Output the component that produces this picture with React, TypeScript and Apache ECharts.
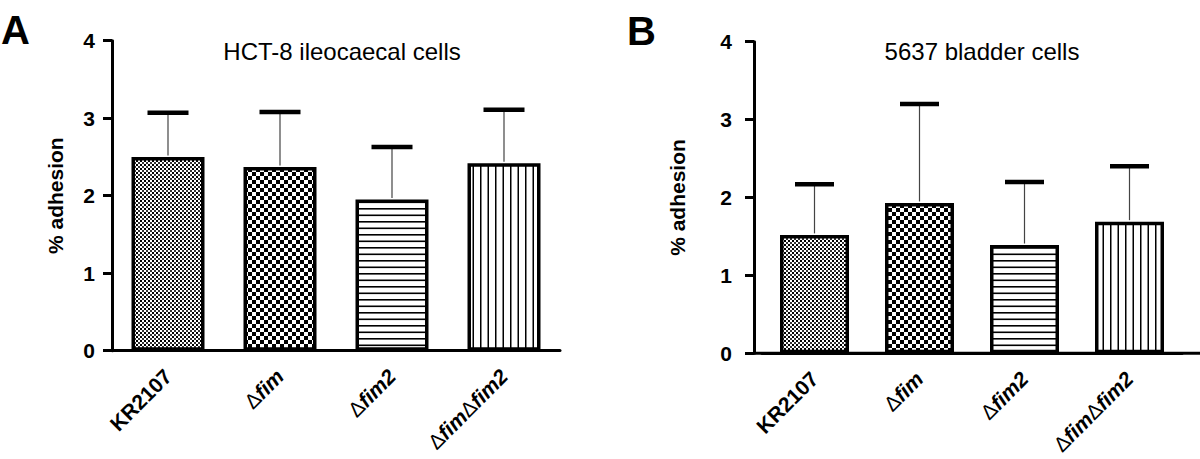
import React, { useEffect, useRef } from "react";
import * as echarts from "echarts";

const categories = ["KR2107", "Δfim", "Δfim2", "ΔfimΔfim2"];
const labelRich = [
  "{b|KR2107}",
  "{d|Δ}{i|fim}",
  "{d|Δ}{i|fim2}",
  "{d|Δ}{i|fim}{d|Δ}{i|fim2}",
];
const meanA = [2.50, 2.37, 1.95, 2.42];
const upperA = [3.07, 3.08, 2.63, 3.11];
const meanB = [1.52, 1.93, 1.39, 1.69];
const upperB = [2.17, 3.20, 2.20, 2.40];
const yTicks = [0, 1, 2, 3, 4];
const titleA = "HCT-8 ileocaecal cells";
const titleB = "5637 bladder cells";
const yName = "% adhesion";

const FONT = "Liberation Sans, Arial, Helvetica, sans-serif";

function makePattern(w: number, h: number, draw: (ctx: CanvasRenderingContext2D) => void) {
  const c = document.createElement("canvas");
  c.width = w;
  c.height = h;
  const ctx = c.getContext("2d")!;
  ctx.fillStyle = "#fff";
  ctx.fillRect(0, 0, w, h);
  ctx.fillStyle = "#000";
  draw(ctx);
  return { image: c, repeat: "repeat", imageWidth: w, imageHeight: h } as any;
}

export default function App() {
  const ref = useRef<HTMLDivElement>(null);
  useEffect(() => {
    if (!ref.current) return;
    const chart = echarts.init(ref.current, undefined, { renderer: "svg" });

    const fine = makePattern(4, 4, (c) => {
      c.fillRect(0, 0, 2, 2);
      c.fillStyle = "#333";
      c.fillRect(2, 2, 2, 2);
    });
    const checker = makePattern(8, 8, (c) => {
      c.fillRect(0, 0, 4, 4);
      c.fillRect(4, 4, 4, 4);
    });
    const hlines = makePattern(4, 13, (c) => {
      c.fillRect(0, 0, 4, 1.6);
      c.fillRect(0, 6.5, 4, 1.6);
    });
    const vlines = makePattern(15, 4, (c) => {
      c.fillRect(0, 0, 1.5, 4);
      c.fillRect(7.5, 0, 1.5, 4);
    });
    const patterns = [fine, checker, hlines, vlines];

    const gA = { left: 112, top: 40.7, width: 448, height: 310 };
    const gB = { left: 762, top: 41.7, width: 420, height: 311.6 };

    const xAxisBase = (gridIndex: number, margin: number) => ({
      type: "category",
      gridIndex,
      data: categories,
      axisLine: { lineStyle: { color: "#000", width: 3 } },
      axisTick: { alignWithLabel: true, length: 9, lineStyle: { color: "#000", width: 3 } },
      axisLabel: {
        rotate: 45,
        margin,
        interval: 0,
        color: "#000",
        formatter: (_v: string, i: number) => labelRich[i],
        rich: {
          b: { fontFamily: FONT, fontWeight: "bold", fontSize: 21, color: "#000" },
          d: { fontFamily: FONT, fontWeight: "normal", fontSize: 21, color: "#000" },
          i: { fontFamily: FONT, fontWeight: "bold", fontStyle: "italic", fontSize: 21, color: "#000" },
        },
      },
    });

    const yAxisBase = (gridIndex: number, offset: number, margin: number, nameGap: number) => ({
      type: "value",
      gridIndex,
      min: yTicks[0],
      max: yTicks[yTicks.length - 1],
      interval: 1,
      offset,
      name: yName,
      nameLocation: "middle",
      nameGap,
      nameTextStyle: { fontFamily: FONT, fontWeight: "bold", fontSize: 21, color: "#000" },
      axisLine: { show: true, lineStyle: { color: "#000", width: 3 } },
      axisTick: { show: true, length: 9, lineStyle: { color: "#000", width: 3 } },
      axisLabel: { margin, color: "#000", fontFamily: FONT, fontWeight: "bold", fontSize: 21 },
      splitLine: { show: false },
    });

    const barSeries = (idx: number, data: number[], width: number) => ({
      type: "bar",
      xAxisIndex: idx,
      yAxisIndex: idx,
      barWidth: width,
      z: 2,
      data: data.map((v, i) => ({
        value: v,
        itemStyle: { color: patterns[i], borderColor: "#000", borderWidth: 3.5 },
      })),
    });

    const errSeries = (idx: number, mean: number[], upper: number[], capW: number) => ({
      type: "custom",
      xAxisIndex: idx,
      yAxisIndex: idx,
      z: 3,
      data: mean.map((m, i) => [i, upper[i], m]),
      renderItem: (_p: any, api: any) => {
        const x = api.value(0);
        const top = api.coord([x, api.value(1)]);
        const bot = api.coord([x, api.value(2)]);
        return {
          type: "group",
          children: [
            {
              type: "line",
              shape: { x1: top[0], y1: top[1], x2: bot[0], y2: bot[1] - 1.5 },
              style: { stroke: "#444", lineWidth: 1.2 },
            },
            {
              type: "line",
              shape: { x1: top[0] - capW / 2, y1: top[1], x2: top[0] + capW / 2, y2: top[1] },
              style: { stroke: "#000", lineWidth: 4.5 },
            },
          ],
        };
      },
    });

    chart.setOption({
      animation: false,
      backgroundColor: "#fff",
      grid: [
        { ...gA, containLabel: false },
        { ...gB, containLabel: false },
      ],
      xAxis: [xAxisBase(0, 22), xAxisBase(1, 22)],
      yAxis: [yAxisBase(0, 0, 17, 46), yAxisBase(1, 8, 22, 66)],
      series: [
        barSeries(0, meanA, 73),
        errSeries(0, meanA, upperA, 41),
        barSeries(1, meanB, 69),
        errSeries(1, meanB, upperB, 39),
      ],
      graphic: [
        {
          type: "line",
          shape: { x1: 754, y1: gB.top + gB.height, x2: 1200, y2: gB.top + gB.height },
          style: { stroke: "#000", lineWidth: 3 },
          z: 1,
        },
        {
          type: "text",
          x: 1,
          y: 30,
          style: { text: "A", font: `bold 40px ${FONT}`, fill: "#000", textVerticalAlign: "middle" },
        },
        {
          type: "text",
          x: 627,
          y: 31,
          style: { text: "B", font: `bold 40px ${FONT}`, fill: "#000", textVerticalAlign: "middle" },
        },
        {
          type: "text",
          x: 342,
          y: 51,
          style: { text: titleA, font: `24px ${FONT}`, fill: "#000", textAlign: "center", textVerticalAlign: "middle" },
        },
        {
          type: "text",
          x: 982,
          y: 51,
          style: { text: titleB, font: `24px ${FONT}`, fill: "#000", textAlign: "center", textVerticalAlign: "middle" },
        },
      ],
    });
    return () => chart.dispose();
  }, []);
  return (
    <div
      ref={ref}
      style={{ position: "fixed", left: 0, top: 0, width: 1200, height: 459, background: "#fff" }}
    />
  );
}
